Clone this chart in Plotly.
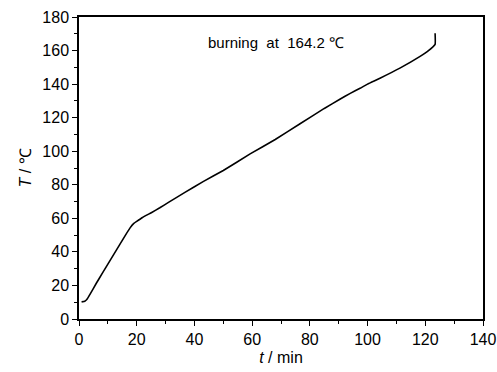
import plotly.graph_objects as go

t_min = [0.9, 2.0, 2.7, 4, 6, 8, 10, 12, 14, 16, 17.7, 19, 20, 22, 25.2, 28, 31, 36.7, 43, 50, 59.3, 68, 76.6, 85, 90.4, 94, 97.4, 100, 104.3, 111.2, 118.2, 121, 123.4, 123.4]
T_c = [10.2, 10.6, 11.6, 15.3, 21.3, 27, 32.7, 38.4, 44, 49.7, 54.3, 57, 58.2, 60.5, 63.5, 66.3, 69.5, 75.5, 81.9, 88.5, 98.4, 107, 116.4, 125.5, 131, 134.5, 137.5, 140, 143.5, 149.5, 156.5, 159.8, 163.7, 170.3]

x_ticks = [0, 20, 40, 60, 80, 100, 120, 140]
y_ticks = [0, 20, 40, 60, 80, 100, 120, 140, 160, 180]
note = "burning  at  164.2 \u2103"

FONT = "Liberation Sans, Arial, sans-serif"

fig = go.Figure()
fig.add_trace(go.Scatter(x=t_min, y=T_c, mode="lines",
                         line=dict(color="black", width=1.6, shape="spline", smoothing=0.3),
                         showlegend=False, hoverinfo="skip"))

axis_common = dict(showline=True, linecolor="black", linewidth=1.5, mirror=True,
                   showgrid=False, zeroline=False, ticks="outside", ticklen=5,
                   tickwidth=1.3, tickcolor="black", automargin=False,
                   tickfont=dict(family=FONT, size=16, color="black"),
                   minor=dict(ticks="outside", ticklen=3, tickwidth=1.2, tickcolor="black", dtick=10))

fig.update_xaxes(range=[0, 140], tickvals=x_ticks, **axis_common,
                 title=dict(text="<i>t</i> / min", font=dict(family=FONT, size=16, color="black"), standoff=5))
fig.update_yaxes(range=[0, 180], tickvals=y_ticks, **axis_common,
                 title=dict(text="<i>T</i> / \u2103", font=dict(family=FONT, size=16, color="black"), standoff=7))

fig.add_annotation(x=0.488, y=0.914, xref="paper", yref="paper", xanchor="center", yanchor="middle",
                   text=note, showarrow=False,
                   font=dict(family=FONT, size=15, color="black"))

fig.update_layout(width=497, height=372, margin=dict(l=79, r=14, t=17, b=53),
                  paper_bgcolor="white", plot_bgcolor="white")

fig.write_html("out.html", config={"displayModeBar": False},
               post_script="document.body.style.margin='0';document.body.style.padding='0';")
